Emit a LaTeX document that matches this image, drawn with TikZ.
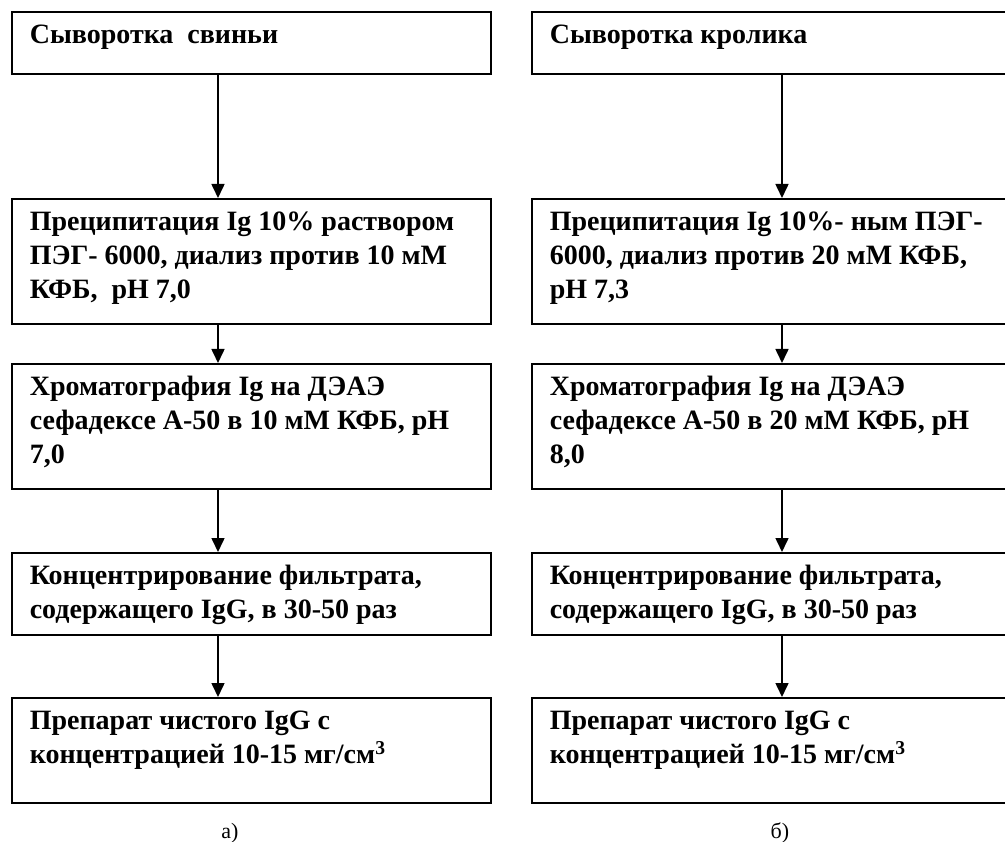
\documentclass[tikz,border=0pt]{standalone}
\usepackage{fontspec}
\setmainfont{Liberation Serif}
\usepackage{tikz}
\usetikzlibrary{arrows.meta, positioning}

% text of a stage box: fixed height, text from the top
\newcommand{\stagetext}[2]{\parbox[c][#1][t]{443pt}{\raggedright\rule{0pt}{32pt}#2}}

\tikzset{
  stage/.style={draw, line width=1.6pt, anchor=north west, inner xsep=18pt, inner ysep=0pt,
    minimum width=479pt, font=\fontsize{28}{34}\selectfont\bfseries},
  flow/.style={-{Triangle[length=14pt, width=13pt]}, line width=1.6pt},
  caption/.style={font=\fontsize{22}{26}\selectfont}
}

\begin{document}
\begin{tikzpicture}[x=1pt, y=-1pt]
		\useasboundingbox (0,0) rectangle (1005,842);
		% Scheme a) - pig serum
		\node[stage] (a1) at (11,11) {\stagetext{62pt}{Сыворотка\ \ свиньи}};
		\node[stage] (a2) at (11,198) {\stagetext{125pt}{Преципитация Ig 10\% раствором\\ПЭГ- 6000, диализ против 10 мМ\\КФБ,\ \ рН 7,0}};
		\node[stage] (a3) at (11,363) {\stagetext{125pt}{Хроматография Ig на ДЭАЭ\\сефадексе А-50 в 10 мМ КФБ, рН\\7,0}};
		\node[stage] (a4) at (11,552) {\stagetext{82pt}{Концентрирование фильтрата,\\содержащего IgG, в 30-50 раз}};
		\node[stage] (a5) at (11,697) {\stagetext{105pt}{Препарат чистого IgG с\\концентрацией 10-15 мг/см\textsuperscript{3}}};
		
		% Scheme b) - rabbit serum
		\node[stage] (b1) at (531,11) {\stagetext{62pt}{Сыворотка кролика}};
		\node[stage] (b2) at (531,198) {\stagetext{125pt}{Преципитация Ig 10\%- ным ПЭГ-\\6000, диализ против 20 мМ КФБ,\\рН 7,3}};
		\node[stage] (b3) at (531,363) {\stagetext{125pt}{Хроматография Ig на ДЭАЭ\\сефадексе А-50 в 20 мМ КФБ, рН\\8,0}};
		\node[stage] (b4) at (531,552) {\stagetext{82pt}{Концентрирование фильтрата,\\содержащего IgG, в 30-50 раз}};
		\node[stage] (b5) at (531,697) {\stagetext{105pt}{Препарат чистого IgG с\\концентрацией 10-15 мг/см\textsuperscript{3}}};
		
		% Labels under the schemes
		\node[caption] (lbla) at (230,833) {а)};
		\node[caption] (lblb) at (780,833) {б)};
		
		% Draw the arrows between the stages
		\coordinate (ca) at (218,0);
		\coordinate (cb) at (782,0);
		\draw[flow] (a1.south -| ca) -- (a2.north -| ca);
		\draw[flow] (a2.south -| ca) -- (a3.north -| ca);
		\draw[flow] (a3.south -| ca) -- (a4.north -| ca);
		\draw[flow] (a4.south -| ca) -- (a5.north -| ca);
		\draw[flow] (b1.south -| cb) -- (b2.north -| cb);
		\draw[flow] (b2.south -| cb) -- (b3.north -| cb);
		\draw[flow] (b3.south -| cb) -- (b4.north -| cb);
		\draw[flow] (b4.south -| cb) -- (b5.north -| cb);
\end{tikzpicture}
\end{document}
